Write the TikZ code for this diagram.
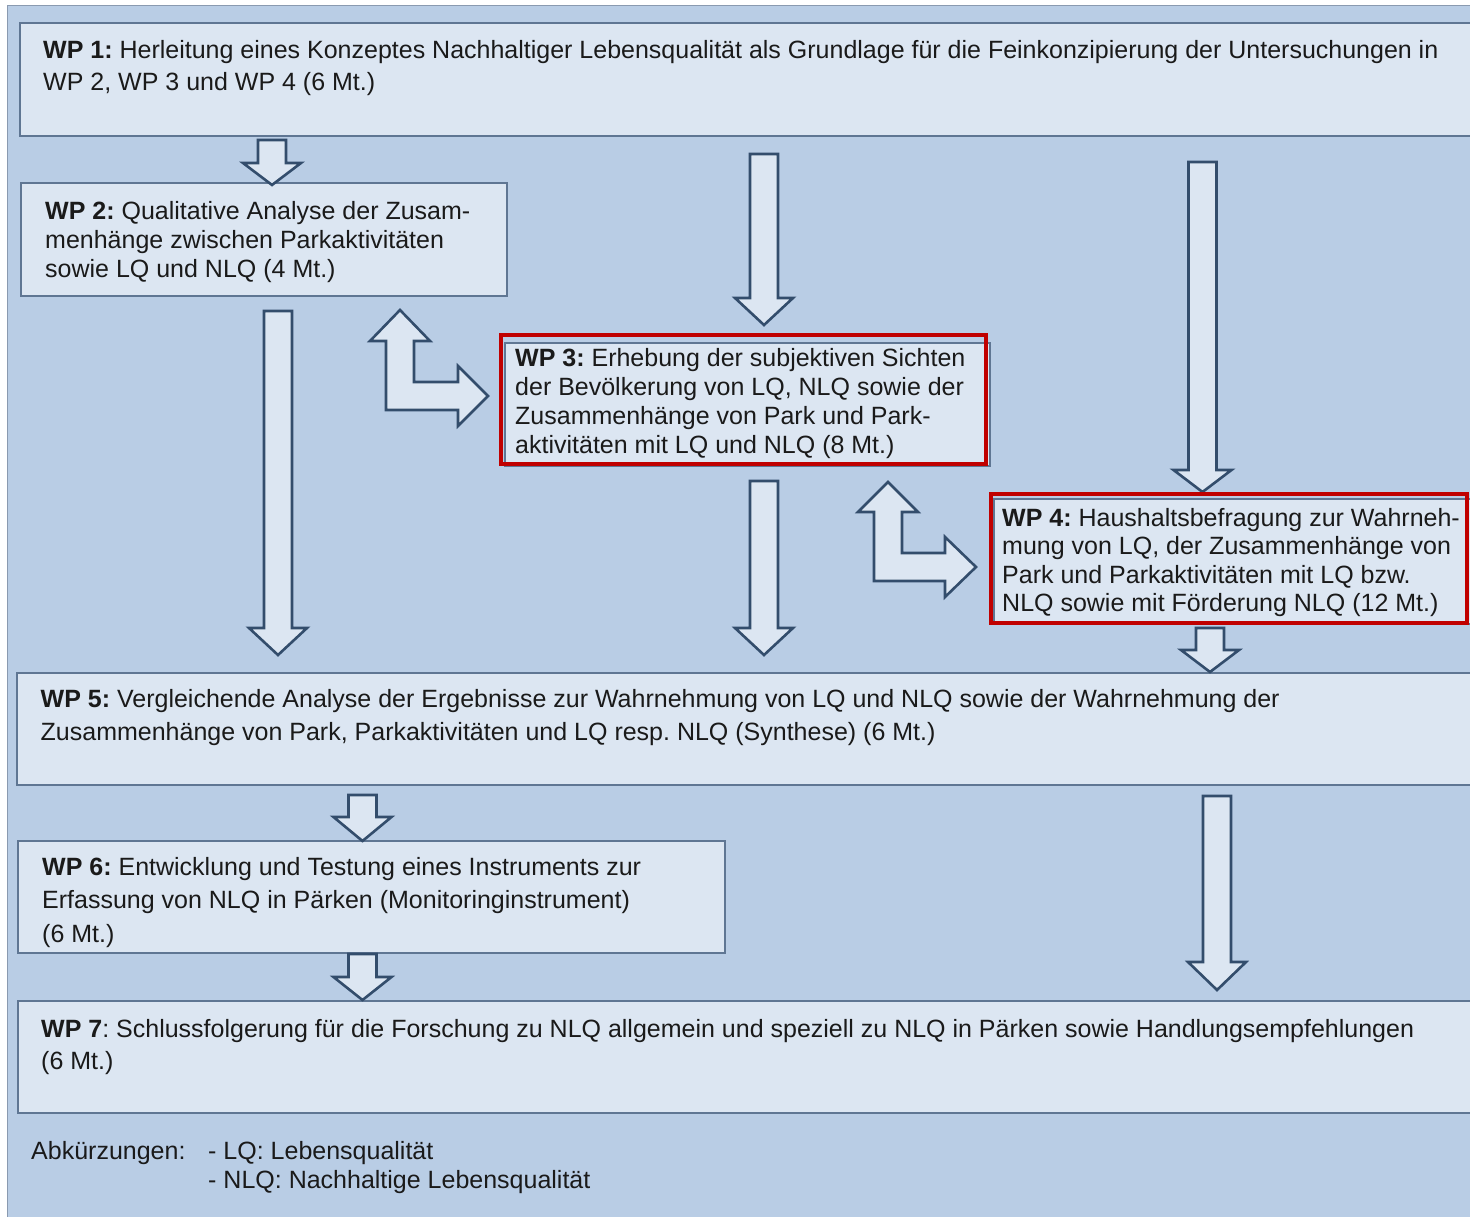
\documentclass[tikz,border=0pt]{standalone}
\usepackage{fontspec}
\setmainfont{Liberation Sans}
\usetikzlibrary{fit}
\frenchspacing
\definecolor{bg}{HTML}{B9CDE5}
\definecolor{boxfill}{HTML}{DCE6F2}
\definecolor{boxline}{HTML}{5F7693}
\definecolor{arrline}{HTML}{334D6C}
\definecolor{redline}{HTML}{C00000}
\definecolor{txtc}{HTML}{1A1A1A}
\definecolor{framec}{HTML}{8A9AB0}
\tikzset{
  box/.style={draw=boxline, fill=boxfill, line width=1.8pt, inner sep=0pt},
  hilite/.style={draw=redline, line width=4pt, inner sep=0pt},
  blockarrow/.style={draw=arrline, fill=boxfill, line width=2.6pt, line join=miter},
  lbl/.style={anchor=base west, inner sep=0pt, text=txtc, font=\fontsize{25}{30}\selectfont},
}
% block arrow pointing down: centre x, top y, head base y, tip y
\newcommand{\bdarrow}[4]{%
  \draw[blockarrow] (#1-14,#2) -- (#1+14,#2) -- (#1+14,#3) -- (#1+29,#3)
    -- (#1,#4) -- (#1-29,#3) -- (#1-14,#3) -- cycle;}
\begin{document}
\begin{tikzpicture}[x=1pt,y=-1pt]
\useasboundingbox (0,0) rectangle (1470,1217);
\clip (0,0) rectangle (1470,1217);
\fill[white] (0,0) rectangle (1470,1217);
\draw[fill=bg, draw=framec, line width=1.5pt] (7.5,5.5) rectangle (1500,1250);

% boxes
\node[box, fit={(20,23) (1490,136)}] (wp1) {};
\node[box, fit={(21,183) (507,296)}] (wp2) {};
\node[box, fit={(505,343) (990,466)}] (wp3) {};
\node[box, fit={(994,499) (1490,624)}] (wp4) {};
\node[box, fit={(17,673) (1490,785)}] (wp5) {};
\node[box, fit={(18,841) (725,953)}] (wp6) {};
\node[box, fit={(18,1001) (1490,1113)}] (wp7) {};

% straight block arrows
\bdarrow{272}{140}{163}{185}
\bdarrow{764}{154}{298}{325}
\bdarrow{1202.5}{162}{470}{492}
\bdarrow{278}{311}{628}{655}
\bdarrow{764}{481}{628}{655}
\bdarrow{1210}{628}{650}{672}
\bdarrow{362.5}{795}{817}{841}
\bdarrow{1217}{796}{962}{990}
\bdarrow{362.5}{954}{977}{1000}

% bent two-headed arrows
\draw[blockarrow] (386,410) -- (386,341) -- (370,341) -- (400,310) -- (430,341)
  -- (414,341) -- (414,382) -- (458,382) -- (458,366) -- (488,396) -- (458,426)
  -- (458,410) -- cycle;
\draw[blockarrow] (874,581) -- (874,512) -- (858,512) -- (888,482) -- (918,512)
  -- (902,512) -- (902,553) -- (945,553) -- (945,537) -- (976,567) -- (945,597)
  -- (945,581) -- cycle;

% red highlights
\node[hilite, fit={(501,335) (986,464)}] (r3) {};
\node[hilite, fit={(991,494) (1467,623)}] (r4) {};

% texts
\node[lbl] (t1a) at (43,58.5) {\textbf{WP 1:} Herleitung eines Konzeptes Nachhaltiger Lebensqualität als Grundlage für die Feinkonzipierung der Untersuchungen in};
\node[lbl] (t1b) at (43,90.5) {WP 2, WP 3 und WP 4 (6 Mt.)};

\node[lbl] (t2a) at (45,219.5) {\textbf{WP 2:} Qualitative Analyse der Zusam-};
\node[lbl] (t2b) at (45,248) {menhänge zwischen Parkaktivitäten};
\node[lbl] (t2c) at (45,277) {sowie LQ und NLQ (4 Mt.)};

\node[lbl] (t3a) at (515,366.5) {\textbf{WP 3:} Erhebung der subjektiven Sichten};
\node[lbl] (t3b) at (515,395.5) {der Bevölkerung von LQ, NLQ sowie der};
\node[lbl] (t3c) at (515,424.5) {Zusammenhänge von Park und Park-};
\node[lbl] (t3d) at (515,453.5) {aktivitäten mit LQ und NLQ (8 Mt.)};

\node[lbl] (t4a) at (1002,526) {\textbf{WP 4:} Haushaltsbefragung zur Wahrneh-};
\node[lbl] (t4b) at (1002,554.5) {mung von LQ, der Zusammenhänge von};
\node[lbl] (t4c) at (1002,583) {Park und Parkaktivitäten mit LQ bzw.};
\node[lbl] (t4d) at (1002,611.5) {NLQ sowie mit Förderung NLQ (12 Mt.)};

\node[lbl] (t5a) at (40.5,707) {\textbf{WP 5:} Vergleichende Analyse der Ergebnisse zur Wahrnehmung von LQ und NLQ sowie der Wahrnehmung der};
\node[lbl] (t5b) at (40.5,740.5) {Zusammenhänge von Park, Parkaktivitäten und LQ resp. NLQ (Synthese) (6 Mt.)};

\node[lbl] (t6a) at (42,875.5) {\textbf{WP 6:} Entwicklung und Testung eines Instruments zur};
\node[lbl] (t6b) at (42,908.5) {Erfassung von NLQ in Pärken (Monitoringinstrument)};
\node[lbl] (t6c) at (42,942) {(6 Mt.)};

\node[lbl] (t7a) at (41,1037) {\textbf{WP 7}: Schlussfolgerung für die Forschung zu NLQ allgemein und speziell zu NLQ in Pärken sowie Handlungsempfehlungen};
\node[lbl] (t7b) at (41,1069) {(6 Mt.)};

\node[lbl] (ab) at (31,1159) {Abkürzungen:};
\node[lbl] (ab1) at (208,1159) {- LQ: Lebensqualität};
\node[lbl] (ab2) at (208,1188) {- NLQ: Nachhaltige Lebensqualität};
\end{tikzpicture}
\end{document}
